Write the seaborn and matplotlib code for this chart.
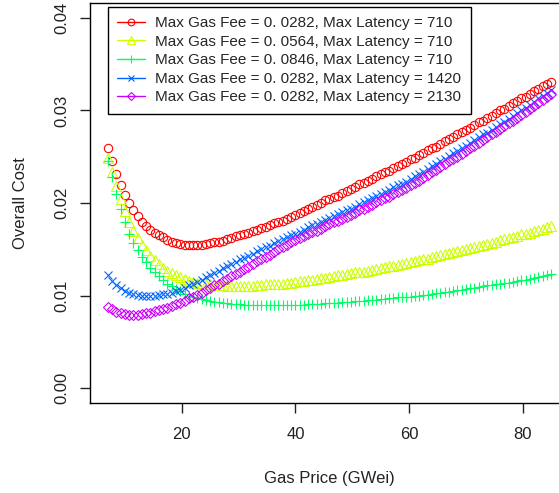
import numpy as np
import pandas as pd
import matplotlib
matplotlib.use("Agg")
import matplotlib.pyplot as plt
from matplotlib.lines import Line2D
import seaborn as sns

# ----------------------------------------
# data
# ----------------------------------------
gas_price = [
    7, 7.75, 8.5, 9.25, 10, 10.75, 11.5, 12.25, 13, 13.75, 14.5, 15.25,
    16, 16.75, 17.5, 18.25, 19, 19.75, 20.5, 21.25, 22, 22.75, 23.5, 24.25,
    25, 25.75, 26.5, 27.25, 28, 28.75, 29.5, 30.25, 31, 31.75, 32.5, 33.25,
    34, 34.75, 35.5, 36.25, 37, 37.75, 38.5, 39.25, 40, 40.75, 41.5, 42.25,
    43, 43.75, 44.5, 45.25, 46, 46.75, 47.5, 48.25, 49, 49.75, 50.5, 51.25,
    52, 52.75, 53.5, 54.25, 55, 55.75, 56.5, 57.25, 58, 58.75, 59.5, 60.25,
    61, 61.75, 62.5, 63.25, 64, 64.75, 65.5, 66.25, 67, 67.75, 68.5, 69.25,
    70, 70.75, 71.5, 72.25, 73, 73.75, 74.5, 75.25, 76, 76.75, 77.5, 78.25,
    79, 79.75, 80.5, 81.25, 82, 82.75, 83.5, 84.25, 85,
]

cost_fee0282_lat710 = [
    0.0259, 0.0245, 0.0231, 0.0219, 0.0209, 0.0200, 0.0192, 0.0186, 0.0180, 0.0175, 0.0171, 0.0168,
    0.0165, 0.0163, 0.0160, 0.0158, 0.0157, 0.0156, 0.0155, 0.0155, 0.0155, 0.0155, 0.0155, 0.0156,
    0.0157, 0.0158, 0.0158, 0.0159, 0.0161, 0.0162, 0.0164, 0.0165, 0.0167, 0.0168, 0.0170, 0.0171,
    0.0173, 0.0174, 0.0176, 0.0178, 0.0180, 0.0181, 0.0183, 0.0185, 0.0187, 0.0189, 0.0191, 0.0194,
    0.0196, 0.0198, 0.0200, 0.0203, 0.0204, 0.0206, 0.0208, 0.0211, 0.0213, 0.0215, 0.0217, 0.0220,
    0.0222, 0.0224, 0.0226, 0.0229, 0.0231, 0.0233, 0.0235, 0.0238, 0.0240, 0.0242, 0.0244, 0.0247,
    0.0249, 0.0252, 0.0254, 0.0257, 0.0259, 0.0261, 0.0264, 0.0267, 0.0269, 0.0271, 0.0274, 0.0277,
    0.0279, 0.0281, 0.0284, 0.0287, 0.0289, 0.0292, 0.0294, 0.0297, 0.0300, 0.0302, 0.0305, 0.0308,
    0.0310, 0.0313, 0.0315, 0.0318, 0.0321, 0.0323, 0.0326, 0.0329, 0.0331,
]

cost_fee0564_lat710 = [
    0.0249, 0.0233, 0.0218, 0.0204, 0.0191, 0.0180, 0.0170, 0.0162, 0.0155, 0.0149, 0.0143, 0.0138,
    0.0134, 0.0130, 0.0127, 0.0124, 0.0122, 0.0120, 0.0118, 0.0116, 0.0115, 0.0114, 0.0113, 0.0113,
    0.0112, 0.0111, 0.0111, 0.0111, 0.0110, 0.0110, 0.0110, 0.0110, 0.0110, 0.0110, 0.0110, 0.0111,
    0.0111, 0.0112, 0.0112, 0.0112, 0.0113, 0.0113, 0.0114, 0.0114, 0.0115, 0.0116, 0.0116, 0.0117,
    0.0117, 0.0118, 0.0119, 0.0119, 0.0120, 0.0121, 0.0122, 0.0122, 0.0123, 0.0124, 0.0125, 0.0125,
    0.0126, 0.0127, 0.0128, 0.0129, 0.0130, 0.0131, 0.0132, 0.0132, 0.0133, 0.0134, 0.0135, 0.0136,
    0.0137, 0.0138, 0.0139, 0.0140, 0.0142, 0.0143, 0.0144, 0.0145, 0.0146, 0.0147, 0.0148, 0.0149,
    0.0150, 0.0151, 0.0153, 0.0154, 0.0155, 0.0156, 0.0157, 0.0158, 0.0160, 0.0161, 0.0162, 0.0163,
    0.0164, 0.0166, 0.0167, 0.0168, 0.0170, 0.0171, 0.0172, 0.0174, 0.0175,
]

cost_fee0846_lat710 = [
    0.0245, 0.0228, 0.0210, 0.0194, 0.0180, 0.0167, 0.0157, 0.0149, 0.0142, 0.0136, 0.0130, 0.0125,
    0.0121, 0.0117, 0.0113, 0.0110, 0.0107, 0.0105, 0.0102, 0.0100, 0.0099, 0.0097, 0.0096, 0.0095,
    0.0094, 0.0093, 0.0093, 0.0092, 0.0092, 0.0091, 0.0091, 0.0091, 0.0090, 0.0090, 0.0090, 0.0090,
    0.0090, 0.0090, 0.0090, 0.0090, 0.0090, 0.0090, 0.0090, 0.0090, 0.0090, 0.0090, 0.0090, 0.0091,
    0.0091, 0.0091, 0.0091, 0.0092, 0.0092, 0.0092, 0.0092, 0.0093, 0.0093, 0.0093, 0.0094, 0.0094,
    0.0094, 0.0095, 0.0095, 0.0095, 0.0096, 0.0096, 0.0097, 0.0097, 0.0098, 0.0098, 0.0099, 0.0099,
    0.0100, 0.0100, 0.0101, 0.0101, 0.0102, 0.0103, 0.0103, 0.0104, 0.0104, 0.0105, 0.0106, 0.0106,
    0.0107, 0.0108, 0.0108, 0.0109, 0.0110, 0.0111, 0.0111, 0.0112, 0.0113, 0.0114, 0.0114, 0.0115,
    0.0116, 0.0117, 0.0117, 0.0118, 0.0119, 0.0120, 0.0121, 0.0122, 0.0123,
]

cost_fee0282_lat1420 = [
    0.0122, 0.0116, 0.0111, 0.0108, 0.0105, 0.0103, 0.0102, 0.0101, 0.0100, 0.0100, 0.0100, 0.0100,
    0.0101, 0.0102, 0.0102, 0.0103, 0.0105, 0.0106, 0.0108, 0.0111, 0.0113, 0.0115, 0.0117, 0.0120,
    0.0122, 0.0124, 0.0127, 0.0130, 0.0132, 0.0134, 0.0136, 0.0139, 0.0141, 0.0143, 0.0145, 0.0148,
    0.0150, 0.0152, 0.0154, 0.0157, 0.0159, 0.0161, 0.0163, 0.0165, 0.0167, 0.0169, 0.0171, 0.0174,
    0.0176, 0.0177, 0.0179, 0.0182, 0.0184, 0.0186, 0.0188, 0.0190, 0.0192, 0.0194, 0.0196, 0.0199,
    0.0201, 0.0203, 0.0205, 0.0208, 0.0210, 0.0212, 0.0214, 0.0217, 0.0219, 0.0221, 0.0223, 0.0226,
    0.0229, 0.0231, 0.0234, 0.0237, 0.0240, 0.0242, 0.0245, 0.0248, 0.0251, 0.0254, 0.0256, 0.0259,
    0.0262, 0.0265, 0.0268, 0.0271, 0.0274, 0.0276, 0.0279, 0.0282, 0.0285, 0.0288, 0.0291, 0.0294,
    0.0297, 0.0300, 0.0303, 0.0306, 0.0309, 0.0313, 0.0316, 0.0319, 0.0322,
]

cost_fee0282_lat2130 = [
    0.0088, 0.0085, 0.0082, 0.0081, 0.0080, 0.0079, 0.0079, 0.0079, 0.0080, 0.0081, 0.0081, 0.0083,
    0.0084, 0.0085, 0.0087, 0.0089, 0.0091, 0.0092, 0.0094, 0.0097, 0.0099, 0.0101, 0.0103, 0.0106,
    0.0108, 0.0111, 0.0113, 0.0116, 0.0118, 0.0121, 0.0123, 0.0126, 0.0129, 0.0131, 0.0134, 0.0137,
    0.0139, 0.0142, 0.0144, 0.0147, 0.0150, 0.0152, 0.0155, 0.0158, 0.0160, 0.0162, 0.0164, 0.0167,
    0.0169, 0.0170, 0.0172, 0.0175, 0.0177, 0.0179, 0.0181, 0.0183, 0.0185, 0.0187, 0.0189, 0.0192,
    0.0194, 0.0196, 0.0198, 0.0201, 0.0203, 0.0205, 0.0207, 0.0210, 0.0212, 0.0214, 0.0216, 0.0219,
    0.0222, 0.0224, 0.0227, 0.0230, 0.0233, 0.0236, 0.0239, 0.0242, 0.0245, 0.0248, 0.0250, 0.0253,
    0.0256, 0.0259, 0.0262, 0.0265, 0.0268, 0.0271, 0.0274, 0.0277, 0.0280, 0.0283, 0.0286, 0.0289,
    0.0292, 0.0295, 0.0298, 0.0301, 0.0305, 0.0308, 0.0311, 0.0315, 0.0318,
]

series_labels = [
    "Max Gas Fee = 0. 0282, Max Latency = 710",
    "Max Gas Fee = 0. 0564, Max Latency = 710",
    "Max Gas Fee = 0. 0846, Max Latency = 710",
    "Max Gas Fee = 0. 0282, Max Latency = 1420",
    "Max Gas Fee = 0. 0282, Max Latency = 2130",
]
series_values = [
    cost_fee0282_lat710, cost_fee0564_lat710, cost_fee0846_lat710,
    cost_fee0282_lat1420, cost_fee0282_lat2130,
]

x_ticks = [20, 40, 60, 80]
y_ticks = [0.00, 0.01, 0.02, 0.03, 0.04]
y_tick_labels = ["0.00", "0.01", "0.02", "0.03", "0.04"]

# R rainbow(5) colours and pch 1..5
colors = ["#FF0000", "#CCFF00", "#00FF66", "#0066FF", "#CC00FF"]
markers = ["o", "^", "+", "x", "D"]
msizes = [6.0, 6.5, 7.5, 6.0, 5.2]

# ----------------------------------------
# plot
# ----------------------------------------
sns.set_style("ticks")
plt.rcParams["font.family"] = ["Liberation Sans", "DejaVu Sans"]

fig = plt.figure(figsize=(5.59, 4.93), dpi=100)
ax = fig.add_axes([90 / 559, 90 / 493, 479 / 559, 400 / 493])

rows = []
for lab, vals in zip(series_labels, series_values):
    for g, v in zip(gas_price, vals):
        rows.append((lab, g, v))
df = pd.DataFrame(rows, columns=["series", "gas_price", "cost"])

handles = []
for lab, c, m, ms in zip(series_labels, colors, markers, msizes):
    sub = df[df["series"] == lab]
    sns.lineplot(data=sub, x="gas_price", y="cost", ax=ax, linestyle="",
                 marker=m, markersize=ms, markerfacecolor="none",
                 markeredgecolor=c, markeredgewidth=0.8, color=c,
                 estimator=None, sort=False, legend=False)
    handles.append(Line2D([0], [0], color=c, lw=1, marker=m, markersize=ms * 0.8,
                          markerfacecolor="none", markeredgecolor=c,
                          markeredgewidth=0.8))

ax.set_xlim(3.88, 88.12)
ax.set_ylim(-0.0016, 0.0416)
ax.set_xticks(x_ticks)
ax.set_xticklabels([str(t) for t in x_ticks])
ax.set_yticks(y_ticks)
ax.set_yticklabels(y_tick_labels, rotation=90, va="center")

for s in ax.spines.values():
    s.set_color("black")
    s.set_linewidth(1.0)
ax.tick_params(axis="both", direction="out", length=7, width=1, color="#222222",
               labelsize=12, labelcolor="#222222")
ax.tick_params(axis="x", pad=10)
ax.tick_params(axis="y", pad=8)

ax.set_xlabel("Gas Price (GWei)", fontsize=12, color="#222222", labelpad=21)
ax.set_ylabel("Overall Cost", fontsize=12, color="#222222", labelpad=19)

leg = ax.legend(handles, series_labels, loc="upper left",
                bbox_to_anchor=(18 / 479, 396 / 400), borderaxespad=0,
                fancybox=False, framealpha=1, edgecolor="black",
                fontsize=11, handlelength=1.8, handletextpad=0.7,
                labelspacing=0.3, borderpad=0.6)
leg.get_frame().set_linewidth(1.0)

fig.savefig("out.png", dpi=100)
